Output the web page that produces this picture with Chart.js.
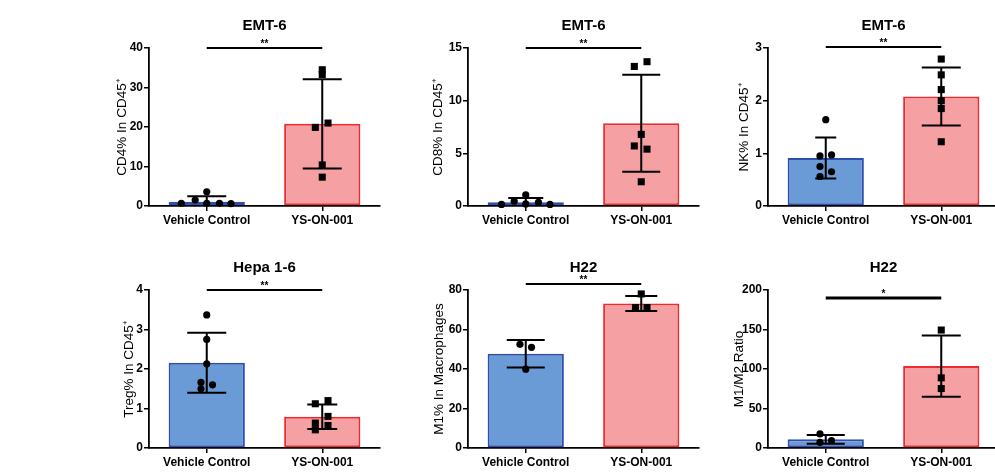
<!DOCTYPE html>
<html>
<head>
<meta charset="utf-8">
<script src="https://cdn.jsdelivr.net/npm/chart.js@4.4.1/dist/chart.umd.min.js"></script>
<style>
  body { margin: 0; background: #fff; overflow: hidden; width: 995px; height: 472px; position: relative; }
  canvas { position: absolute; }
</style>
</head>
<body>
<script>
var groups = ['Vehicle Control', 'YS-ON-001'];

// panel titles, axis titles, significance marks
var titles = ['EMT-6', 'EMT-6', 'EMT-6', 'Hepa 1-6', 'H22', 'H22'];
var yTitles = ['CD4% In CD45\u207A', 'CD8% In CD45\u207A', 'NK% In CD45\u207A', 'Treg% In CD45\u207A', 'M1% In Macrophages', 'M1/M2 Ratio'];
var stars = ['**', '**', '**', '**', '**', '*'];
var sigLevel = [40, 15, 3.02, 4, 83, 190];
var yMax = [40, 15, 3, 4, 80, 200];
var yStep = [10, 5, 1, 1, 20, 50];

// bar heights (mean) and error (SD): [vehicle, YS-ON-001]
var means = [[1.1, 20.8], [0.35, 7.85], [0.91, 2.08], [2.16, 0.79], [47.7, 73.2], [11, 103.7]];
var sds = [[1.4, 11.3], [0.4, 4.6], [0.39, 0.55], [0.76, 0.31], [7, 3.8], [5.5, 38.7]];

// individual points
var vehPts = [
  [0.7, 1.5, 3.6, 0.7, 0.7, 0.6],
  [0.15, 0.45, 1.05, 0.2, 0.35, 0.15],
  [1.64, 0.95, 0.97, 0.75, 0.65, 0.56],
  [3.37, 2.75, 2.13, 1.66, 1.6, 1.5],
  [52.5, 51.0, 39.9],
  [17.8, 7.2, 9.3]
];
var vehJit = [
  [-0.22, -0.10, 0, 0, 0.11, 0.21],
  [-0.21, -0.10, 0, 0, 0.11, 0.21],
  [0, -0.05, 0.05, -0.05, 0.05, -0.05],
  [0, 0, 0, -0.05, 0.05, -0.05],
  [-0.05, 0.05, 0],
  [-0.05, -0.05, 0.05]
];
var ysPts = [
  [34.5, 33.3, 19.9, 21.0, 10.4, 7.3],
  [13.25, 13.7, 6.8, 5.7, 5.4, 2.3],
  [2.79, 2.49, 2.21, 2.0, 1.85, 1.22],
  [1.12, 1.2, 0.8, 0.63, 0.57, 0.46],
  [78, 71.1, 71.1],
  [149.3, 88.8, 75.3]
];
var ysJit = [
  [0, 0, -0.06, 0.05, 0, 0],
  [-0.06, 0.05, 0, -0.06, 0.05, 0],
  [0, 0, 0, 0, 0, 0],
  [-0.06, 0.05, 0.05, -0.06, 0.05, -0.06],
  [0, -0.05, 0.05],
  [0, 0, 0]
];

// layout: y-axis pixel x, row top, y title gap, cap widths
var axisX = [149, 468, 768, 149, 468, 768];
var rowTop = [0, 0, 0, 242, 242, 242];
var rowH = [236, 236, 236, 230, 230, 230];
var titleGap = [29, 32, 26, 22, 31, 31];
var caps = [[39, 39], [35, 38], [21, 39], [39, 30], [38, 32], [38, 39]];
var sigWidth = [2, 2, 2, 2, 2, 3];

var BOX = 70, PLOT_W = 234, PLOT_H = 158, TOP = 48;
var FONT = "'Liberation Sans', Arial, sans-serif";
var YT_SIZE = 13.5;

var errPlugin = {
  id: 'errbars',
  afterDatasetsDraw: function(chart) {
    var p = chart.options.plugins.errbars;
    var ctx = chart.ctx, xs = chart.scales.x, ys = chart.scales.y;
    ctx.save();
    ctx.beginPath();
    ctx.rect(chart.chartArea.left - 30, 0, chart.chartArea.width + 60, chart.chartArea.bottom);
    ctx.clip();
    ctx.strokeStyle = '#000';
    ctx.lineWidth = 2;
    for (var i = 0; i < 2; i++) {
      var cx = xs.getPixelForValue(i);
      var hi = ys.getPixelForValue(p.mean[i] + p.sd[i]);
      var lo = ys.getPixelForValue(Math.max(0, p.mean[i] - p.sd[i]));
      var hw = p.caps[i] / 2;
      ctx.beginPath();
      ctx.moveTo(cx, hi); ctx.lineTo(cx, lo);
      ctx.moveTo(cx - hw, hi); ctx.lineTo(cx + hw, hi);
      if (p.mean[i] - p.sd[i] > 0) { ctx.moveTo(cx - hw, lo); ctx.lineTo(cx + hw, lo); }
      ctx.stroke();
    }
    ctx.restore();
    // significance line
    ctx.save();
    var sy = ys.getPixelForValue(p.sig);
    ctx.strokeStyle = '#000';
    ctx.lineWidth = p.sigW;
    ctx.beginPath();
    ctx.moveTo(xs.getPixelForValue(0), sy);
    ctx.lineTo(xs.getPixelForValue(1), sy);
    ctx.stroke();
    ctx.fillStyle = '#000';
    ctx.font = 'bold 10px ' + FONT;
    ctx.textAlign = 'center';
    ctx.textBaseline = 'alphabetic';
    ctx.fillText(p.stars, (xs.getPixelForValue(0) + xs.getPixelForValue(1)) / 2, sy - 1);
    ctx.restore();
  }
};

function drawPanel(k) {
  var cv = document.createElement('canvas');
  var w = BOX + PLOT_W + 2, h = rowH[k];
  cv.width = w; cv.height = h;
  cv.style.left = (axisX[k] - BOX) + 'px';
  cv.style.top = rowTop[k] + 'px';
  cv.style.width = w + 'px'; cv.style.height = h + 'px';
  document.body.appendChild(cv);

  var bdata = means[k].map(function(v, i) { return {x: i, y: v}; });
  var vdata = vehPts[k].map(function(v, j) { return {x: 0 + vehJit[k][j], y: v}; });
  var rdata = ysPts[k].map(function(v, j) { return {x: 1 + ysJit[k][j], y: v}; });

  new Chart(cv, {
    type: 'bar',
    data: {
      datasets: [
        {
          type: 'bar',
          data: bdata,
          backgroundColor: ['#6b9bd6', '#f5a1a4'],
          borderColor: ['#2f4fae', '#ef2b2f'],
          borderWidth: 2,
          borderSkipped: false,
          categoryPercentage: 1,
          barPercentage: 0.66,
          order: 3
        },
        {
          type: 'scatter', data: vdata,
          pointStyle: 'circle', pointRadius: 3.6, backgroundColor: '#000', borderColor: '#000', borderWidth: 0,
          clip: false, order: 1
        },
        {
          type: 'scatter', data: rdata,
          pointStyle: 'rect', pointRadius: 5, backgroundColor: '#000', borderColor: '#000', borderWidth: 0,
          clip: false, order: 1
        }
      ]
    },
    options: {
      responsive: false,
      animation: false,
      layout: { padding: { left: 0, right: 2, top: 0, bottom: 0 } },
      plugins: {
        legend: { display: false },
        tooltip: { enabled: false },
        title: {
          display: true, text: titles[k], fullSize: false, color: '#000',
          font: { family: FONT, size: 15, weight: 'bold' },
          padding: { top: 17, bottom: 13 }
        },
        errbars: { mean: means[k], sd: sds[k], caps: caps[k], sig: sigLevel[k], stars: stars[k], sigW: sigWidth[k] }
      },
      scales: {
        x: {
          type: 'linear',
          min: -0.5, max: 1.5,
          offset: false,
          afterBuildTicks: function(s) { s.ticks = groups.map(function(g, i) { return {value: i}; }); },
          grid: { display: true, offset: false, drawOnChartArea: false, drawTicks: true, tickLength: 5, color: '#000', lineWidth: 1.5 },
          border: { display: true, color: '#000', width: 1.8 },
          ticks: {
            color: '#000', padding: 2, autoSkip: false, maxRotation: 0,
            font: { family: FONT, size: 12, weight: 'bold' },
            callback: function(v) { return groups[v]; }
          },
          afterFit: function(s) { s.height = h - TOP - PLOT_H; }
        },
        y: {
          min: 0, max: yMax[k],
          grid: { display: true, drawOnChartArea: false, drawTicks: true, tickLength: 5, color: '#000', lineWidth: 1.5 },
          border: { display: true, color: '#000', width: 1.8 },
          ticks: { stepSize: yStep[k], color: '#000', padding: 1, font: { family: FONT, size: 12, weight: 'bold' } },
          title: {
            display: true, text: yTitles[k], color: '#000',
            font: { family: FONT, size: YT_SIZE },
            padding: { top: BOX - titleGap[k] - (YT_SIZE * 0.6) + 2, bottom: 0 }
          },
          afterFit: function(s) { s.width = BOX; }
        }
      }
    },
    plugins: [errPlugin]
  });
}

for (var k = 0; k < 6; k++) drawPanel(k);
</script>
</body>
</html>
